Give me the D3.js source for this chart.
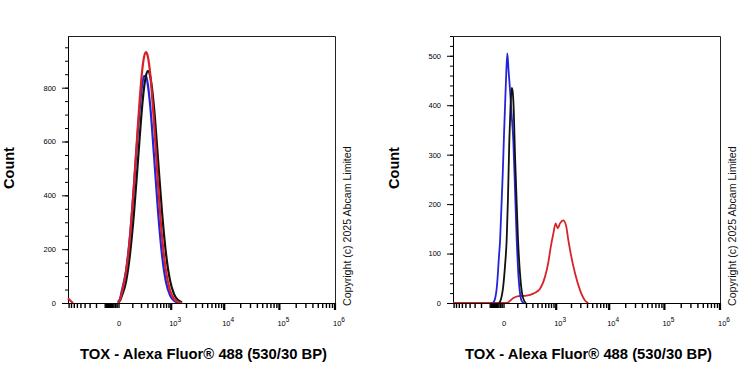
<!DOCTYPE html>
<html lang="en">
<head>
  <meta charset="UTF-8">
  <title>TOX flow histograms</title>
  <style>
    body { margin: 0; background: #fff; }
    svg { display: block; font-family: Arial, "Liberation Sans", sans-serif; }
    .tick text { font-size: 7.5px; fill: #000; }
    .domain { stroke: #000; }
    .tick line { stroke: #000; }
  </style>
</head>
<body>
  <div id="chart"></div>
  <script src="https://cdnjs.cloudflare.com/ajax/libs/d3/7.8.5/d3.min.js"></script>
  <script>
    'use strict';

    const xTitle = 'TOX - Alexa Fluor® 488 (530/30 BP)',
      yTitle = 'Count',
      copyright = 'Copyright (c) 2025 Abcam Limited';

    // biexponential-ish fluorescence axis
    const xDomain = [-946, 1e6];
    const xDecades = [1e3, 1e4, 1e5, 1e6];

    // left panel: three overlapping histograms
    const leftX = [-6, 5, 17, 44, 75, 112, 156, 207, 236, 268, 302, 340, 425, 525, 643, 782, 946, 1140, 1369, 1639];
    const leftBlue = [4, 14, 48, 120, 250, 440, 650, 807, 843, 843, 807, 740, 546, 339, 177, 77, 29, 9, 2, 0];
    const leftBlack = [0, 8, 28, 80, 182, 336, 533, 725, 798, 845, 862, 845, 725, 533, 336, 182, 84, 33, 11, 3];
    const leftRedX = [-946, -860, -745, -600, -6, 5, 17, 44, 75, 112, 156, 207, 236, 268, 302, 340, 425, 525, 643, 782, 946, 1140, 1369, 1639];
    const leftRed = [18, 10, 0, null, 2, 12, 40, 116, 246, 440, 668, 858, 913, 932, 913, 858, 668, 440, 246, 116, 46, 15, 4, 0];

    // right panel
    const rightBlueX = [-75, -59, -44, -30, -23, -17, -7, 0, 5.5, 11, 19, 27, 37, 47, 61, 75, 90, 102, 122, 144, 168];
    const rightBlue = [0, 8, 35, 95, 127, 175, 262, 340, 397, 450, 505, 470, 430, 385, 329, 230, 127, 70, 20, 3, 0];
    const rightBlackX = [-30, -17, -5.5, 5.5, 15, 23, 32, 40, 49, 55, 63, 75, 90, 102, 122, 144, 168, 194];
    const rightBlack = [0, 8, 30, 75, 127, 210, 329, 395, 435, 430, 400, 300, 200, 130, 60, 20, 5, 0];
    const rightRedX = [-946, 15, 61, 105, 203, 308, 448, 581, 685, 770, 872, 976, 1072, 1193, 1386, 1567, 1737, 1930, 2334, 2900, 3597, 4144];
    const rightRed = [0, 0, 10, 14, 15, 19, 29, 53, 82, 113, 140, 161, 151, 161, 167, 157, 127, 100, 60, 26, 5, 0];

    const colors = { blue: '#2323d8', black: '#111', red: '#d8222a' };

    const width = 750, height = 375;
    const svg = d3.select('#chart').append('svg')
      .attr('width', width)
      .attr('height', height);

    function zip(xs, ys) {
      return xs.map((v, i) => [v, ys[i]]);
    }

    function minorTicks() {
      const out = [100];
      [100, 1000, 1e4, 1e5].forEach(base => {
        for (let m = 2; m <= 9; m++) out.push(m * base);
      });
      for (let m = 1; m <= 9; m++) out.push(-m * 100);
      return out;
    }
    const nearZero = d3.range(-90, 1, 10);

    function drawPanel(cfg) {
      const W = 267, H = 267;
      const g = svg.append('g').attr('transform', `translate(${cfg.left},36)`);

      const x = d3.scaleSymlog().constant(130).domain(xDomain).range([0, W]);
      const y = d3.scaleLinear().domain([0, cfg.yMax]).range([H, 0]);

      // frame
      g.append('path')
        .attr('d', `M0.5,0.5H${W + 0.5}V${H}`)
        .attr('fill', 'none')
        .attr('stroke', '#222');

      // y axis
      g.append('g')
        .call(d3.axisLeft(y).tickValues(cfg.yMinor).tickSize(3).tickSizeOuter(0).tickFormat(''));
      g.append('g')
        .call(d3.axisLeft(y).tickValues(cfg.yMajor).tickSize(6).tickSizeOuter(0).tickPadding(6));

      // histograms
      const line = d3.line()
        .defined(d => d[1] !== null)
        .x(d => x(d[0]))
        .y(d => y(d[1]))
        .curve(d3.curveMonotoneX);

      cfg.series.forEach(s => {
        g.append('path')
          .attr('d', line(s.data))
          .attr('fill', 'none')
          .attr('stroke', s.color)
          .attr('stroke-width', cfg.lineWidth)
          .attr('stroke-linejoin', 'round');
      });

      // x axis: one path per tick group
      const xa = g.append('g').attr('transform', `translate(0,${H})`);
      xa.append('path')
        .attr('d', `M0,0.5H${W + 1}`)
        .attr('stroke', '#000')
        .attr('stroke-width', 1.2);

      const tickSets = [
        { values: minorTicks(), len: 5, sw: 1.4 },
        { values: nearZero, len: 5, sw: 1.4 },
        { values: xDecades, len: 7, sw: 2.2 }
      ];
      tickSets.forEach(ts => {
        const d = ts.values.map(v => `M${x(v).toFixed(1)},0V${ts.len}`).join('');
        xa.append('path')
          .attr('d', d)
          .attr('fill', 'none')
          .attr('stroke', '#000')
          .attr('stroke-width', ts.sw);
      });

      const lab = xa.selectAll('text.xl')
        .data([0].concat(xDecades))
        .enter().append('text')
        .attr('class', 'xl')
        .attr('x', d => x(d))
        .attr('y', 23)
        .attr('text-anchor', d => d === 0 ? 'middle' : 'start')
        .attr('dx', d => d === 0 ? 0 : -2)
        .attr('font-size', 7.5)
        .attr('fill', '#000');
      lab.append('tspan').text(d => d === 0 ? '0' : '10');
      lab.filter(d => d !== 0).append('tspan')
        .attr('dy', -4)
        .attr('font-size', 6.5)
        .text(d => Math.round(Math.log10(d)));

      // titles
      svg.append('text')
        .attr('transform', `translate(${cfg.left - 54.5},168) rotate(-90)`)
        .attr('text-anchor', 'middle')
        .attr('font-size', 14.5)
        .attr('font-weight', 'bold')
        .text(yTitle);

      svg.append('text')
        .attr('x', cfg.left + 135.5)
        .attr('y', 359)
        .attr('text-anchor', 'middle')
        .attr('font-size', 14.8)
        .attr('font-weight', 'bold')
        .text(xTitle);

      svg.append('text')
        .attr('transform', `translate(${cfg.left + W + 16},306) rotate(-90)`)
        .attr('font-size', 10.6)
        .attr('fill', '#111')
        .text(copyright);
    }

    drawPanel({
      left: 68,
      yMax: 992,
      lineWidth: 2.2,
      yMajor: d3.range(0, 801, 200),
      yMinor: d3.range(0, 951, 50),
      series: [
        { color: colors.blue, data: zip(leftX, leftBlue) },
        { color: colors.black, data: zip(leftX, leftBlack) },
        { color: colors.red, data: zip(leftRedX, leftRed) }
      ]
    });

    drawPanel({
      left: 453,
      yMax: 540,
      lineWidth: 1.8,
      yMajor: d3.range(0, 501, 100),
      yMinor: d3.range(0, 541, 20),
      series: [
        { color: colors.red, data: zip(rightRedX, rightRed) },
        { color: colors.blue, data: zip(rightBlueX, rightBlue) },
        { color: colors.black, data: zip(rightBlackX, rightBlack) }
      ]
    });
  </script>
</body>
</html>
